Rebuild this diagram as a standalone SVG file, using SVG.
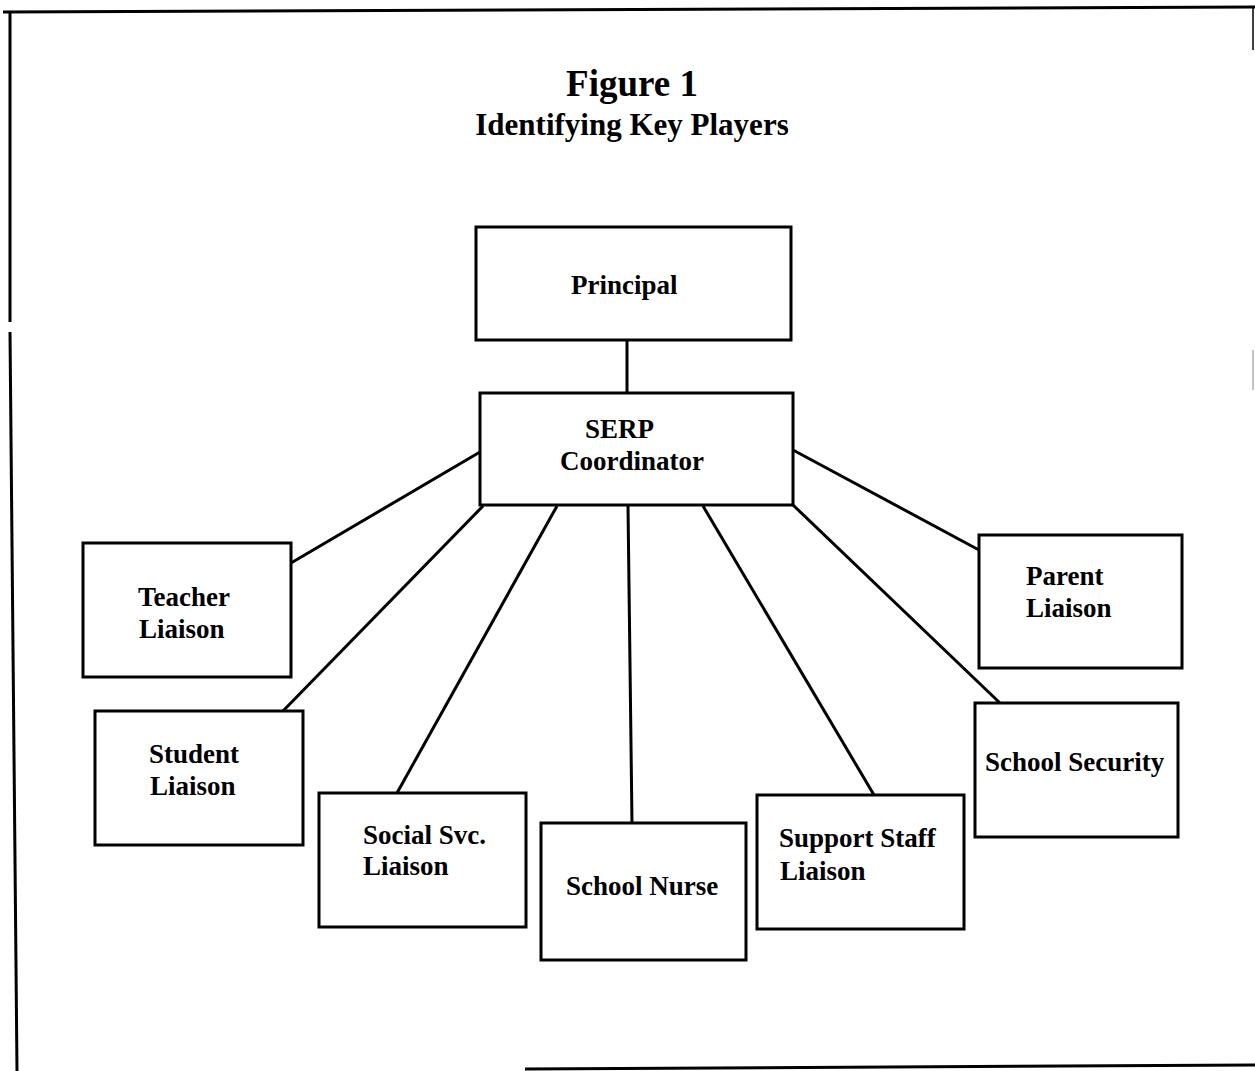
<svg xmlns="http://www.w3.org/2000/svg" width="1255" height="1071" viewBox="0 0 1255 1071">
<style>
.box{fill:#fff;stroke:#000;stroke-width:3}
.ln{stroke:#000;stroke-width:3;fill:none}
.t{font-family:"Liberation Serif","Times New Roman",serif;font-weight:bold;font-size:27px;fill:#000}
.ttl{font-family:"Liberation Serif","Times New Roman",serif;font-weight:bold;fill:#000;text-anchor:middle}
</style>
<rect width="1255" height="1071" fill="#fff"/>
<g id="frame" class="ln">
<path d="M3 12 L1255 7"/>
<path d="M10 12 L10 322"/>
<path d="M10 332 L17 1071"/>
<path d="M525 1069 L1255 1065"/>
<path d="M1253 7 L1253 50" stroke-width="1.5"/>
<path d="M1253 350 L1253 390" stroke-width="1" stroke="#888"/>
</g>
<g id="title">
<text class="ttl" x="632" y="96" font-size="37">Figure 1</text>
<text class="ttl" x="632" y="135" font-size="31">Identifying Key Players</text>
</g>
<g id="connectors" class="ln">
<line x1="627" y1="340" x2="627" y2="393"/>
<line x1="480" y1="452" x2="291" y2="563"/>
<line x1="483" y1="506" x2="283" y2="711"/>
<line x1="557" y1="506" x2="397" y2="793"/>
<line x1="628" y1="506" x2="632" y2="823"/>
<line x1="703" y1="506" x2="874" y2="795"/>
<line x1="793" y1="505" x2="1000" y2="703"/>
<line x1="793" y1="450" x2="979" y2="550"/>
</g>
<g id="principal"><rect class="box" x="476" y="227" width="315" height="113"/><text class="t" x="571" y="294">Principal</text></g>
<g id="serp"><rect class="box" x="480" y="393" width="313" height="112"/><text class="t" x="585" y="438">SERP</text><text class="t" x="560" y="470">Coordinator</text></g>
<g id="teacher"><rect class="box" x="83" y="543" width="208" height="134"/><text class="t" x="138" y="606">Teacher</text><text class="t" x="139" y="638">Liaison</text></g>
<g id="student"><rect class="box" x="95" y="711" width="208" height="134"/><text class="t" x="149" y="763">Student</text><text class="t" x="150" y="795">Liaison</text></g>
<g id="social"><rect class="box" x="319" y="793" width="207" height="134"/><text class="t" x="363" y="844">Social Svc.</text><text class="t" x="363" y="875">Liaison</text></g>
<g id="nurse"><rect class="box" x="541" y="823" width="205" height="137"/><text class="t" x="566" y="895">School Nurse</text></g>
<g id="support"><rect class="box" x="757" y="795" width="207" height="134"/><text class="t" x="779" y="847">Support Staff</text><text class="t" x="780" y="880">Liaison</text></g>
<g id="security"><rect class="box" x="975" y="703" width="203" height="134"/><text class="t" x="985" y="771">School Security</text></g>
<g id="parent"><rect class="box" x="979" y="535" width="203" height="133"/><text class="t" x="1026" y="585">Parent</text><text class="t" x="1026" y="617">Liaison</text></g>
</svg>
